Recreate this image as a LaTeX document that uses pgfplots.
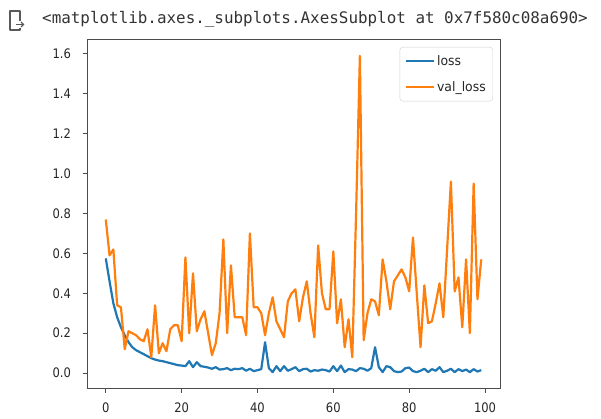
\documentclass[border=0pt]{standalone}
\usepackage{fontspec}
\usepackage{pgfplots}
\pgfplotsset{compat=1.18}
\usepackage{pgfplotstable}
\setmainfont{DejaVu Sans}
\newfontfamily\tickfont[FakeStretch=0.88]{DejaVu Sans}
\newfontfamily\legfont[FakeStretch=0.95]{DejaVu Sans}
\newfontfamily\monofont{DejaVu Sans Mono}
\definecolor{mplblue}{HTML}{1F77B4}
\definecolor{mplorange}{HTML}{FF7F0E}

\pgfplotstableread{
i loss val
0 0.575 0.77
1 0.46 0.59
2 0.35 0.62
3 0.28 0.34
4 0.23 0.33
5 0.19 0.12
6 0.155 0.21
7 0.13 0.20
8 0.115 0.19
9 0.105 0.17
10 0.095 0.16
11 0.085 0.22
12 0.075 0.08
13 0.068 0.34
14 0.063 0.10
15 0.060 0.15
16 0.055 0.11
17 0.050 0.22
18 0.045 0.24
19 0.040 0.24
20 0.038 0.16
21 0.035 0.58
22 0.060 0.20
23 0.030 0.50
24 0.055 0.21
25 0.035 0.27
26 0.032 0.31
27 0.028 0.20
28 0.022 0.09
29 0.030 0.15
30 0.018 0.30
31 0.020 0.67
32 0.025 0.20
33 0.015 0.54
34 0.022 0.28
35 0.020 0.28
36 0.025 0.28
37 0.012 0.19
38 0.022 0.70
39 0.010 0.33
40 0.015 0.33
41 0.020 0.30
42 0.155 0.19
43 0.025 0.30
44 0.005 0.38
45 0.035 0.26
46 0.010 0.22
47 0.035 0.18
48 0.012 0.36
49 0.020 0.40
50 0.030 0.42
51 0.010 0.26
52 0.020 0.38
53 0.022 0.46
54 0.008 0.30
55 0.015 0.18
56 0.012 0.64
57 0.018 0.40
58 0.015 0.32
59 0.008 0.32
60 0.035 0.61
61 0.010 0.25
62 0.038 0.37
63 0.005 0.13
64 0.020 0.27
65 0.018 0.08
66 0.010 0.80
67 0.025 1.59
68 0.022 0.165
69 0.012 0.30
70 0.025 0.37
71 0.130 0.36
72 0.030 0.29
73 0.005 0.57
74 0.035 0.46
75 0.030 0.32
76 0.010 0.46
77 0.005 0.49
78 0.008 0.52
79 0.025 0.48
80 0.028 0.41
81 0.010 0.68
82 0.005 0.40
83 0.012 0.13
84 0.022 0.44
85 0.005 0.25
86 0.020 0.26
87 0.012 0.35
88 0.030 0.45
89 0.005 0.28
90 0.012 0.62
91 0.022 0.96
92 0.005 0.41
93 0.020 0.48
94 0.010 0.23
95 0.018 0.57
96 0.005 0.20
97 0.020 0.95
98 0.008 0.37
99 0.015 0.57
}\losstable

\begin{document}
\begin{tikzpicture}[x=1pt,y=1pt]
\path[use as bounding box] (0pt,0pt) rectangle (601pt,418pt);
% output icon
\draw[black!65, line width=1.6pt, line join=round] (20pt,397pt) -- (20pt,407pt) -- (10pt,407pt) -- (10pt,388pt) -- (20pt,388pt) -- (20pt,390pt);
\draw[black!65, line width=1.4pt] (16pt,393.5pt) -- (23pt,393.5pt);
\draw[black!65, line width=1.4pt] (21pt,396pt) -- (23.5pt,393.5pt) -- (21pt,391pt);
% header text
\node[anchor=base west, inner sep=0pt, text=black!80] at (42pt,394pt)
  {\fontsize{15.9}{16}\monofont <matplotlib.axes.\_subplots.AxesSubplot at 0x7f580c08a690>};
\begin{axis}[
  at={(87pt,30pt)}, anchor=south west,
  scale only axis, width=413pt, height=348pt,
  xmin=-4.95, xmax=103.95, ymin=-0.0745, ymax=1.6695,
  xtick={0,20,40,60,80,100},
  ytick={0,0.2,0.4,0.6,0.8,1.0,1.2,1.4,1.6},
  y tick label style={/pgf/number format/fixed, /pgf/number format/fixed zerofill, /pgf/number format/precision=1},
  /pgf/number format/assume math mode=true,
  tick align=outside, major tick length=4.5pt,
  xtick pos=bottom, ytick pos=left,
  tick style={black!70, line width=0.9pt},
  axis line style={black!70, line width=1pt},
  ticklabel style={font=\fontsize{13.1}{13.1}\tickfont, text=black!85},
  xticklabel style={yshift=-7pt},
  yticklabel style={xshift=-8pt},
  legend style={at={(0.983,0.98)}, anchor=north east, draw=black!18, rounded corners=3pt,
    font=\fontsize{13.1}{13.1}\legfont, text=black!85, inner xsep=5pt, inner ysep=6pt,
    row sep=11pt},
  legend cell align=left,
  legend image code/.code={\draw[#1] (0pt,0pt) -- (28pt,0pt);},
]
\addplot[mplblue, line width=2.2pt, line join=round] table[x=i, y=loss] {\losstable};
\addlegendentry{loss}
\addplot[mplorange, line width=2.2pt, line join=round] table[x=i, y=val] {\losstable};
\addlegendentry{val\_loss}
\end{axis}
\end{tikzpicture}
\end{document}
